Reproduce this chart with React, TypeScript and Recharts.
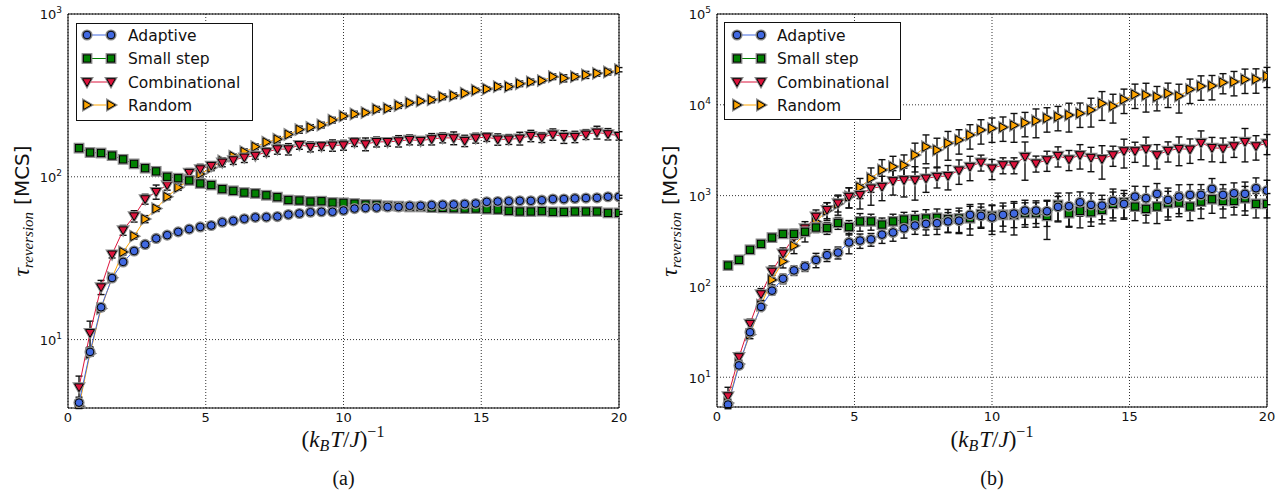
import React from "react";
import { ComposedChart, Line, XAxis, YAxis, CartesianGrid, ErrorBar } from "recharts";

// ---------- data ----------
const xValues = [
  0.4, 0.8, 1.2, 1.6, 2, 2.4, 2.8, 3.2, 3.6, 4,
  4.4, 4.8, 5.2, 5.6, 6, 6.4, 6.8, 7.2, 7.6, 8,
  8.4, 8.8, 9.2, 9.6, 10, 10.4, 10.8, 11.2, 11.6, 12,
  12.4, 12.8, 13.2, 13.6, 14, 14.4, 14.8, 15.2, 15.6, 16,
  16.4, 16.8, 17.2, 17.6, 18, 18.4, 18.8, 19.2, 19.6, 20,
];
const xTicks = [0, 5, 10, 15, 20];

// panel (a)
const leftAdaptive = [
  4.1, 8.4, 15.8, 23.9, 30, 35, 38.4, 41.8, 43.8, 45.9,
  47.7, 49.2, 50.2, 52.6, 53.6, 55.2, 56.3, 56.5, 57, 58.6,
  59.5, 60.6, 61, 61, 62.1, 63.8, 64.4, 64.7, 65.3, 65.3,
  66.3, 66.3, 67, 67.3, 67.6, 68, 68.5, 70.2, 70.5, 70.8,
  71.2, 71.2, 71.8, 73, 73, 73.6, 74, 74.3, 75.4, 75.4,
];
const leftSmall = [
  150, 141, 140, 135, 128, 120, 113, 108, 100, 98,
  95, 91, 89, 84, 82, 80, 79, 77, 75, 72,
  71.5, 70.5, 70.8, 69.5, 69.2, 68.5, 67.6, 67.3, 66.3, 66,
  65.3, 65.3, 64.7, 64.4, 64.1, 63.8, 63.8, 63.2, 62.9, 61.8,
  61.2, 61.2, 61.5, 60.9, 60.9, 61.2, 61.2, 61.2, 60, 60,
];
const leftComb = [
  5.1, 11, 21, 33.4, 47, 57.3, 73, 80.9, 89, 96.4,
  106, 111.5, 117, 122.6, 126.7, 131.6, 135, 141.9, 148, 148,
  157, 153, 154.5, 156, 156.6, 163.4, 158.8, 164, 164, 165.7,
  169, 166.6, 170.6, 173.8, 173, 166.6, 173, 175.4, 169.9, 169.9,
  172.2, 178.6, 174.6, 182.2, 176.2, 176.2, 182.2, 187.5, 183.1, 178.6,
];
const leftRandom = [
  3.9, 8.2, 15.5, 24, 34.5, 43.2, 55, 63.8, 75.3, 86,
  95.4, 104, 113.6, 125, 134, 142.6, 153, 163, 170, 182,
  195, 201, 208, 223, 236, 243, 248, 260, 263, 274,
  285, 292, 297, 310, 315, 326, 340, 346, 358, 358,
  373, 383, 390, 412, 403, 412, 423, 432, 440, 455,
];
// relative errors in percent
const leftAdaptiveErr = [
  8, 6, 5, 4, 3, 3, 3, 3, 2, 2,
  2, 2, 3, 2, 2, 2, 2, 3, 2, 2,
  2, 2, 2, 3, 2, 2, 2, 2, 3, 2,
  2, 2, 2, 2, 3, 2, 2, 2, 2, 2,
  3, 2, 2, 2, 2, 3, 2, 2, 2, 2,
];
const leftSmallErr = [
  2, 2, 2, 2, 2, 2, 2, 2, 2, 2,
  2, 2, 2, 2, 2, 2, 2, 2, 2, 2,
  2, 2, 2, 2, 2, 2, 2, 2, 2, 2,
  2, 3, 2, 2, 2, 2, 3, 2, 2, 2,
  2, 2, 2, 2, 2, 2, 2, 2, 2, 2,
];
const leftCombErr = [
  17, 18, 10, 5, 7, 8, 7, 10, 7, 6,
  6, 7, 5, 6, 6, 7, 5, 6, 7, 8,
  6, 7, 6, 8, 7, 6, 9, 7, 6, 8,
  7, 6, 8, 7, 9, 8, 7, 6, 8, 7,
  9, 8, 7, 8, 9, 8, 7, 9, 8, 6,
];
const leftRandomErr = [
  3, 3, 3, 4, 4, 4, 5, 4, 4, 4,
  4, 4, 4, 4, 3, 4, 4, 3, 4, 4,
  5, 4, 4, 4, 4, 4, 3, 4, 4, 4,
  3, 3, 4, 4, 4, 3, 3, 3, 4, 4,
  4, 4, 3, 4, 5, 4, 5, 4, 4, 3,
];

// panel (b)
const rightAdaptive = [
  5.0, 13.5, 31.3, 59.5, 89.8, 121.6, 150, 166, 196, 221,
  236, 305, 320, 330, 372, 393, 436, 468, 489, 497,
  520, 530, 614, 598, 574, 614, 634, 684, 684, 673,
  751, 764, 845, 790, 776, 875, 811, 975, 935, 1045,
  897, 975, 1018, 1018, 1186, 1018, 1062, 1045, 1205, 1135,
];
const rightSmall = [
  170, 196, 253, 294, 345, 379, 379, 400, 445, 440,
  500, 450, 520, 520, 480, 520, 545, 550, 560, 570,
  550, 560, 564, 624, 598, 614, 614, 641, 641, 598,
  790, 641, 679, 656, 697, 811, 845, 757, 714, 757,
  825, 837, 757, 859, 912, 875, 875, 935, 811, 811,
];
const rightComb = [
  6.2, 16.7, 38.9, 82.4, 146, 231, 349, 438, 589, 697,
  825, 975, 1018, 1205, 1256, 1449, 1486, 1486, 1552, 1618,
  1650, 1900, 2084, 2328, 2000, 2173, 2173, 2685, 2270, 2466,
  2754, 2512, 2801, 2618, 2531, 2801, 3098, 3098, 3260, 2801,
  3125, 3283, 3235, 3823, 3365, 3311, 3513, 3918, 3513, 3770,
];
const rightRandom = [
  5.2, 14, 29.5, 62, 118, 188, 280, 386, 517, 684,
  811, 975, 1236, 1552, 1914, 2084, 2158, 2801, 3451, 3175,
  3770, 4090, 4645, 5272, 5508, 5650, 5943, 6346, 6668, 7143,
  7386, 7711, 8043, 8750, 10360, 9680, 11450, 13000, 12790, 12250,
  13330, 12480, 14760, 16030, 16180, 17620, 17920, 19030, 19150, 20650,
];
const rightAdaptiveErr = [
  10, 8, 8, 8, 10, 12, 12, 12, 18, 15,
  15, 25, 18, 16, 20, 20, 22, 20, 25, 25,
  25, 28, 30, 25, 35, 25, 30, 30, 28, 32,
  30, 40, 30, 35, 30, 35, 30, 30, 35, 30,
  35, 35, 30, 30, 30, 30, 30, 35, 30, 30,
];
const rightSmallErr = [
  5, 5, 5, 8, 8, 10, 12, 10, 12, 15,
  15, 18, 22, 20, 18, 20, 20, 22, 25, 25,
  28, 30, 35, 30, 32, 35, 40, 30, 30, 45,
  35, 30, 35, 30, 30, 35, 35, 30, 30, 35,
  35, 30, 30, 35, 30, 35, 30, 35, 30, 30,
];
const rightCombErr = [
  25, 12, 12, 15, 15, 15, 15, 18, 18, 20,
  20, 25, 30, 35, 30, 30, 35, 40, 30, 25,
  30, 30, 30, 20, 25, 20, 20, 45, 20, 25,
  25, 25, 30, 30, 40, 25, 35, 25, 35, 30,
  25, 35, 30, 35, 30, 30, 25, 40, 30, 25,
];
const rightRandomErr = [
  10, 10, 10, 12, 12, 15, 18, 20, 22, 22,
  25, 25, 25, 30, 30, 30, 30, 35, 35, 35,
  35, 30, 30, 30, 30, 30, 35, 30, 35, 30,
  30, 35, 30, 35, 35, 35, 30, 30, 35, 30,
  30, 35, 30, 30, 30, 25, 30, 30, 30, 25,
];

const leftMajor = [10, 100, 1000];
const leftMinor = [4, 5, 6, 7, 8, 9, 20, 30, 40, 50, 60, 70, 80, 90, 200, 300, 400, 500, 600, 700, 800, 900];
const rightMajor = [10, 100, 1000, 10000, 100000];
const rightMinor = [
  5, 6, 7, 8, 9, 20, 30, 40, 50, 60, 70, 80, 90, 200, 300, 400, 500, 600, 700, 800, 900,
  2000, 3000, 4000, 5000, 6000, 7000, 8000, 9000, 20000, 30000, 40000, 50000, 60000, 70000, 80000, 90000,
];

// ---------- series styling ----------
type Shape = "circle" | "square" | "triD" | "triR";
const SERIES: { key: string; name: string; color: string; shape: Shape }[] = [
  { key: "random", name: "Random", color: "#FFA500", shape: "triR" },
  { key: "comb", name: "Combinational", color: "#DC143C", shape: "triD" },
  { key: "small", name: "Small step", color: "#008000", shape: "square" },
  { key: "adaptive", name: "Adaptive", color: "#4169E1", shape: "circle" },
];
const LEGEND_ORDER = ["adaptive", "small", "comb", "random"];

function pair(v: number, p: number): [number, number] {
  const e = (v * (p ?? 0)) / 100;
  return [e, e];
}

function buildRows(a: number[], s: number[], c: number[], r: number[], ae: number[], se: number[], ce: number[], re: number[]) {
  return xValues.map((x, i) => ({
    x,
    adaptive: a[i],
    small: s[i],
    comb: c[i],
    random: r[i],
    adaptiveErr: pair(a[i], ae[i]),
    smallErr: pair(s[i], se[i]),
    combErr: pair(c[i], ce[i]),
    randomErr: pair(r[i], re[i]),
  }));
}

const leftRows = buildRows(leftAdaptive, leftSmall, leftComb, leftRandom, leftAdaptiveErr, leftSmallErr, leftCombErr, leftRandomErr);
const rightRows = buildRows(rightAdaptive, rightSmall, rightComb, rightRandom, rightAdaptiveErr, rightSmallErr, rightCombErr, rightRandomErr);

// ---------- markers ----------
function shapeEl(shape: Shape, cx: number, cy: number, fill: string, stroke: string, sw: number, grow = 0) {
  switch (shape) {
    case "circle":
      return <circle cx={cx} cy={cy} r={3.8 + grow} fill={fill} stroke={stroke} strokeWidth={sw} />;
    case "square":
      return <rect x={cx - 3.6 - grow} y={cy - 3.6 - grow} width={7.2 + 2 * grow} height={7.2 + 2 * grow} fill={fill} stroke={stroke} strokeWidth={sw} />;
    case "triD": {
      const s = 4.4 + grow;
      return <polygon points={`${cx - s},${cy - s * 0.75} ${cx + s},${cy - s * 0.75} ${cx},${cy + s}`} fill={fill} stroke={stroke} strokeWidth={sw} strokeLinejoin="miter" />;
    }
    case "triR":
    default: {
      const s = 4.4 + grow;
      return <polygon points={`${cx - s * 0.75},${cy - s} ${cx - s * 0.75},${cy + s} ${cx + s},${cy}`} fill={fill} stroke={stroke} strokeWidth={sw} strokeLinejoin="miter" />;
    }
  }
}

function Marker({ shape, cx, cy, color }: { shape: Shape; cx: number; cy: number; color: string }) {
  return (
    <g>
      {shapeEl(shape, cx, cy, "none", "#8a8a8a", 2, 0.8)}
      {shapeEl(shape, cx, cy, color, "#000", 1)}
    </g>
  );
}

// ---------- ticks ----------
const XTick = (props: any) => {
  const { x, y, payload } = props;
  return (
    <text x={x} y={y} dy="0.71em" textAnchor="middle" fontFamily="DejaVu Sans" fontSize={13} fill="#111">
      {payload.value}
    </text>
  );
};

const YTick = (props: any) => {
  const { x, y, payload } = props;
  const exp = Math.round(Math.log10(payload.value));
  return (
    <text x={x} y={y} dy="0.42em" textAnchor="end" fontFamily="DejaVu Sans" fontSize={13} fill="#111">
      10
      <tspan dy={-6} fontSize={9}>
        {exp}
      </tspan>
    </text>
  );
};

// ---------- panel ----------
function Panel(props: {
  left: number;
  width: number;
  marginRight: number;
  marginBottom: number;
  yWidth: number;
  rows: any[];
  yDomain: [number, number];
  yMajor: number[];
  yMinor: number[];
}) {
  const { left, width, marginRight, marginBottom, yWidth, rows, yDomain, yMajor, yMinor } = props;
  const axisStroke = { stroke: "#000", strokeWidth: 1 };
  return (
    <div style={{ position: "absolute", left, top: 0 }}>
      <ComposedChart width={width} height={495} data={rows} margin={{ top: 14, right: marginRight, bottom: marginBottom, left: 0 }}>
        <CartesianGrid stroke="#000" strokeDasharray="1 2" strokeWidth={1} strokeOpacity={0.8} fill="none" />
        <XAxis
          dataKey="x"
          type="number"
          domain={[0, 20]}
          ticks={xTicks}
          interval={0}
          allowDataOverflow
          height={30}
          tickLine={false}
          tickSize={0}
          tickMargin={5}
          axisLine={axisStroke}
          tick={<XTick />}
        />
        <XAxis xAxisId="top" orientation="top" mirror height={1} type="number" domain={[0, 20]} ticks={xTicks} interval={0} allowDataOverflow tick={false} tickSize={4} axisLine={axisStroke} tickLine={axisStroke} />
        <XAxis xAxisId="bot" orientation="bottom" mirror height={1} type="number" domain={[0, 20]} ticks={xTicks} interval={0} allowDataOverflow tick={false} tickSize={4} axisLine={false} tickLine={axisStroke} />
        <YAxis
          type="number"
          scale="log"
          domain={yDomain}
          ticks={yMajor}
          interval={0}
          allowDataOverflow
          width={yWidth}
          tickLine={false}
          tickSize={0}
          tickMargin={6}
          axisLine={axisStroke}
          tick={<YTick />}
        />
        <YAxis yAxisId="lmaj" mirror width={1} type="number" scale="log" domain={yDomain} ticks={yMajor} interval={0} allowDataOverflow tick={false} tickSize={4} axisLine={false} tickLine={axisStroke} />
        <YAxis yAxisId="lmin" mirror width={1} type="number" scale="log" domain={yDomain} ticks={yMinor} interval={0} allowDataOverflow tick={false} tickSize={2} axisLine={false} tickLine={axisStroke} />
        <YAxis yAxisId="rmaj" orientation="right" mirror width={1} type="number" scale="log" domain={yDomain} ticks={yMajor} interval={0} allowDataOverflow tick={false} tickSize={4} axisLine={axisStroke} tickLine={axisStroke} />
        <YAxis yAxisId="rmin" orientation="right" mirror width={1} type="number" scale="log" domain={yDomain} ticks={yMinor} interval={0} allowDataOverflow tick={false} tickSize={2} axisLine={false} tickLine={axisStroke} />
        {SERIES.map((s) => (
          <Line
            key={s.key}
            dataKey={s.key}
            name={s.name}
            stroke={s.color}
            strokeWidth={1}
            isAnimationActive={false}
            activeDot={false}
            dot={(p: any) =>
              p.cx == null || p.cy == null || isNaN(p.cx) || isNaN(p.cy) ? (
                <g key={`${s.key}-${p.index}`} />
              ) : (
                <g key={`${s.key}-${p.index}`}>
                  <Marker shape={s.shape} cx={p.cx} cy={p.cy} color={s.color} />
                </g>
              )
            }
          >
            <ErrorBar dataKey={`${s.key}Err`} width={3.5} stroke="#111" strokeWidth={1.4} direction="y" />
          </Line>
        ))}
      </ComposedChart>
    </div>
  );
}

// ---------- overlay texts ----------
function LegendBox({ x, y, w, h, handleX, textX }: { x: number; y: number; w: number; h: number; handleX: number; textX: number }) {
  const rows = [35, 58.5, 82, 105];
  return (
    <g>
      <rect x={x} y={y} width={w} height={h} fill="#fff" stroke="#111" strokeWidth={1} />
      {LEGEND_ORDER.map((k, i) => {
        const s = SERIES.find((q) => q.key === k)!;
        const cy = rows[i];
        return (
          <g key={k}>
            <line x1={handleX} y1={cy} x2={handleX + 24} y2={cy} stroke={s.color} strokeWidth={1} />
            <Marker shape={s.shape} cx={handleX} cy={cy} color={s.color} />
            <Marker shape={s.shape} cx={handleX + 24} cy={cy} color={s.color} />
            <text x={textX} y={cy + 5.5} fontFamily="DejaVu Sans" fontSize={15.5} fill="#111">
              {s.name}
            </text>
          </g>
        );
      })}
    </g>
  );
}

function YLabel({ x, y }: { x: number; y: number }) {
  return (
    <text transform={`rotate(-90 ${x} ${y})`} x={x} y={y} textAnchor="middle" fill="#111">
      <tspan fontFamily="Liberation Serif" fontStyle="italic" fontSize={24}>
        τ
      </tspan>
      <tspan fontFamily="Liberation Serif" fontStyle="italic" fontSize={15} dy={4}>
        reversion
      </tspan>
      <tspan fontFamily="DejaVu Sans" fontSize={20} dy={-4} dx={7}>
        [MCS]
      </tspan>
    </text>
  );
}

function XLabel({ x, y }: { x: number; y: number }) {
  return (
    <text x={x} y={y} textAnchor="middle" fontFamily="Liberation Serif" fontSize={23} fill="#111">
      (<tspan fontStyle="italic">k</tspan>
      <tspan fontStyle="italic" fontSize={16} dy={4}>
        B
      </tspan>
      <tspan fontStyle="italic" dy={-4} dx={1}>
        T
      </tspan>
      /<tspan fontStyle="italic">J</tspan>)
      <tspan fontSize={16} dy={-10}>
        −1
      </tspan>
    </text>
  );
}

export default function App() {
  return (
    <div style={{ position: "absolute", left: 0, top: 0, width: 1287, height: 495, background: "#fff", overflow: "hidden" }}>
      <Panel left={0} width={640} marginRight={21} marginBottom={57} yWidth={68} rows={leftRows} yDomain={[3.8, 1000]} yMajor={leftMajor} yMinor={leftMinor} />
      <Panel left={648} width={639} marginRight={20} marginBottom={58} yWidth={69} rows={rightRows} yDomain={[4.7, 100000]} yMajor={rightMajor} yMinor={rightMinor} />
      <svg width={1287} height={495} style={{ position: "absolute", left: 0, top: 0, pointerEvents: "none" }}>
        <LegendBox x={76.5} y={23.5} w={176} h={97} handleX={87} textX={128} />
        <LegendBox x={724.5} y={22.5} w={176} h={97} handleX={737} textX={777} />
        <YLabel x={28.5} y={211} />
        <YLabel x={677} y={211} />
        <XLabel x={343} y={447} />
        <XLabel x={992} y={447} />
        <text x={343.5} y={485} textAnchor="middle" fontFamily="Liberation Serif" fontSize={20} fill="#111">
          (a)
        </text>
        <text x={992} y={485} textAnchor="middle" fontFamily="Liberation Serif" fontSize={20} fill="#111">
          (b)
        </text>
      </svg>
    </div>
  );
}
